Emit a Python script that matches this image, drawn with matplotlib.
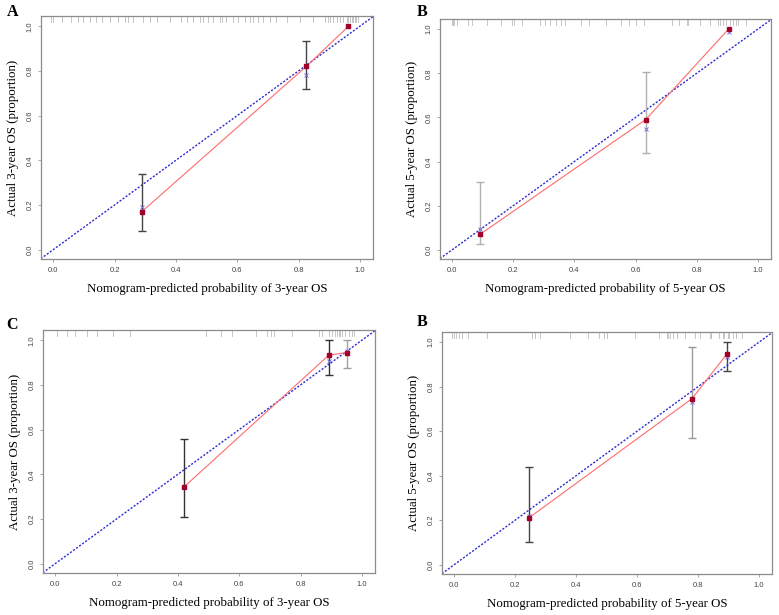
import matplotlib
matplotlib.use("Agg")
import matplotlib.pyplot as plt

# ---------------- data ----------------
panel_letters = ["A", "B", "C", "B"]
x_labels = ["Nomogram-predicted probability of 3-year OS",
            "Nomogram-predicted probability of 5-year OS",
            "Nomogram-predicted probability of 3-year OS",
            "Nomogram-predicted probability of 5-year OS"]
y_labels = ["Actual 3-year OS (proportion)",
            "Actual 5-year OS (proportion)",
            "Actual 3-year OS (proportion)",
            "Actual 5-year OS (proportion)"]

pred_A = [0.289, 0.826, 0.963]
obs_A = [0.170, 0.821, 1.000]
corr_A = [0.190, 0.780, 1.000]
lo_A = [0.085, 0.719, None]
hi_A = [0.338, 0.935, None]
rug_A = [-0.008, 0.0, 0.03, 0.058, 0.08, 0.098, 0.12, 0.14, 0.158, 0.185, 0.21, 0.233,
         0.245, 0.26, 0.293, 0.315, 0.337, 0.38, 0.418, 0.435, 0.457, 0.478, 0.489,
         0.505, 0.522, 0.543, 0.549, 0.565, 0.587, 0.603, 0.625, 0.641, 0.652, 0.668,
         0.685, 0.707, 0.728, 0.761, 0.804, 0.848, 0.886, 0.897, 0.902, 0.913, 0.924,
         0.935, 0.946, 0.957, 0.962, 0.967, 0.973, 0.978, 0.984, 0.989, 0.995]

pred_B = [0.091, 0.633, 0.904]
obs_B = [0.070, 0.590, 1.000]
corr_B = [0.094, 0.548, 0.988]
lo_B = [0.025, 0.438, None]
hi_B = [0.306, 0.805, None]
rug_B = [-0.002, 0.002, 0.006, 0.017, 0.05, 0.066, 0.115, 0.158, 0.196, 0.203, 0.228,
         0.288, 0.304, 0.32, 0.341, 0.357, 0.368, 0.422, 0.449, 0.503, 0.552, 0.579,
         0.6, 0.627, 0.719, 0.741, 0.768, 0.773, 0.811, 0.843, 0.87, 0.876, 0.886,
         0.897, 0.908, 0.919, 0.93, 0.935, 0.962]

pred_C = [0.419, 0.892, 0.951]
obs_C = [0.342, 0.933, 0.945]
corr_C = [0.342, 0.908, 0.950]
lo_C = [0.209, 0.844, 0.874]
hi_C = [0.560, 1.000, 1.000]
rug_C = [0.005, 0.038, 0.065, 0.103, 0.135, 0.189, 0.243, 0.492, 0.541, 0.578, 0.654,
         0.692, 0.703, 0.714, 0.773, 0.859, 0.87, 0.892, 0.903, 0.914, 0.919, 0.924,
         0.93, 0.935, 0.946, 0.957, 0.968, 0.973]

pred_D = [0.247, 0.780, 0.894]
obs_D = [0.212, 0.746, 0.945]
corr_D = [0.218, 0.730, 0.935]
lo_D = [0.104, 0.570, 0.871]
hi_D = [0.440, 0.978, 1.000]
rug_D = [-0.006, 0.001, 0.006, 0.017, 0.026, 0.045, 0.109, 0.255, 0.266, 0.282, 0.379,
         0.438, 0.476, 0.492, 0.503, 0.595, 0.671, 0.698, 0.703, 0.708, 0.719, 0.73,
         0.757, 0.789, 0.806, 0.838, 0.843, 0.87, 0.881, 0.886, 0.897, 0.903, 0.914,
         0.924, 0.946]

ticks = [0.0, 0.2, 0.4, 0.6, 0.8, 1.0]
tick_labels = ["0.0", "0.2", "0.4", "0.6", "0.8", "1.0"]

# ---------------- layout / style ----------------
W, H = 779, 615
fig = plt.figure(figsize=(W / 100, H / 100), dpi=100)
fig.patch.set_facecolor("white")

def rect(l, r, t, b):
    return [l / W, 1 - b / H, (r - l) / W, (b - t) / H]

rects = [rect(41, 373, 16, 259), rect(440, 771, 19, 259),
         rect(43, 375, 330, 573), rect(442, 772, 332, 574)]
letter_pos = [(13, 12), (422, 12), (12, 325), (422, 322)]

panels = [
    (pred_A, obs_A, corr_A, lo_A, hi_A, rug_A, ["#444444", "#444444", None]),
    (pred_B, obs_B, corr_B, lo_B, hi_B, rug_B, ["#b0b0b0", "#b0b0b0", None]),
    (pred_C, obs_C, corr_C, lo_C, hi_C, rug_C, ["#333333", "#333333", "#a0a0a0"]),
    (pred_D, obs_D, corr_D, lo_D, hi_D, rug_D, ["#444444", "#999999", "#444444"]),
]

serif = ["Liberation Serif", "DejaVu Serif"]
sans = ["Liberation Sans", "DejaVu Sans"]

for i, (pred, obs, corr, lo, hi, rug, ecols) in enumerate(panels):
    ax = fig.add_axes(rects[i])
    ax.set_xlim(-0.04, 1.043)
    ax.set_ylim(-0.042, 1.046)
    # ideal diagonal
    ax.plot([-0.1, 1.2], [-0.1, 1.2], color="#2b2bd0", lw=1.0,
            linestyle=(0, (1.5, 1.2)), zorder=2)
    # error bars
    for px, l, h, c in zip(pred, lo, hi, ecols):
        if l is None or c is None:
            continue
        ax.errorbar([px], [(l + h) / 2], yerr=[[(l + h) / 2 - l], [h - (l + h) / 2]],
                    fmt="none", ecolor=c, elinewidth=1.0, capsize=3, capthick=1.0,
                    zorder=3)
    # apparent line
    ax.plot(pred, obs, color="#ff6b6b", lw=0.8, zorder=4)
    ax.plot(pred, obs, linestyle="none", marker="s", markersize=2.3,
            color="#a0002a", zorder=6)
    # bias corrected markers
    ax.plot(pred, corr, linestyle="none", marker="x", markersize=3.0,
            mew=0.7, color="#7070e0", zorder=5)
    # rug
    for rv in rug:
        ax.plot([rv, rv], [1.019, 1.042], color="#aaaaaa", lw=0.6, alpha=0.8,
                zorder=1)
    # axes styling
    for s in ax.spines.values():
        s.set_color("#8c8c8c")
        s.set_linewidth(0.9)
    ax.set_xticks(ticks)
    ax.set_yticks(ticks)
    ax.set_xticklabels(tick_labels, fontsize=5.5, family=sans, color="#444444")
    ax.set_yticklabels(tick_labels, fontsize=5.5, family=sans, color="#444444",
                       rotation=90, va="center")
    ax.tick_params(axis="both", length=2.5, width=0.6, color="#999999", pad=3)
    ax.set_xlabel(x_labels[i], fontsize=9.3, family=serif, labelpad=7)
    ax.set_ylabel(y_labels[i], fontsize=9.3, family=serif, labelpad=5)
    lx, ly = letter_pos[i]
    fig.text(lx / W, 1 - ly / H, panel_letters[i], fontsize=11.5, family=serif,
             weight="bold", ha="center", va="center")

fig.savefig("out.png", dpi=100, facecolor="white")
